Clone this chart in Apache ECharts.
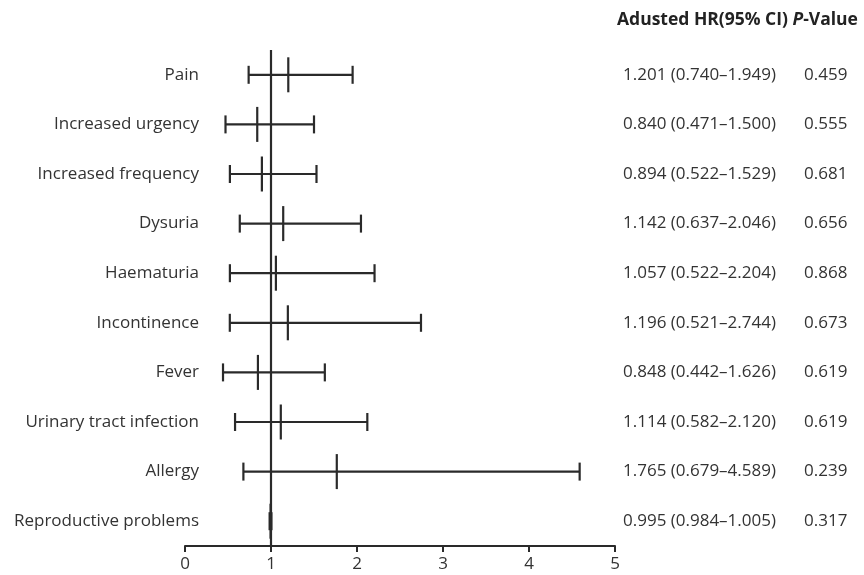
<!DOCTYPE html>
<html>
<head>
<meta charset="utf-8">
<script src="https://cdn.jsdelivr.net/npm/echarts@6/dist/echarts.min.js"></script>
<style>html,body{margin:0;padding:0;background:#fff}#c{width:864px;height:575px}</style>
</head>
<body>
<div id="c"></div>
<script>
var categories = ["Pain","Increased urgency","Increased frequency","Dysuria","Haematuria","Incontinence","Fever","Urinary tract infection","Allergy","Reproductive problems"];
var hr    = [1.201, 0.840, 0.894, 1.142, 1.057, 1.196, 0.848, 1.114, 1.765, 0.995];
var lower = [0.740, 0.471, 0.522, 0.637, 0.522, 0.521, 0.442, 0.582, 0.679, 0.984];
var upper = [1.949, 1.500, 1.529, 2.046, 2.204, 2.744, 1.626, 2.120, 4.589, 1.005];
var pValues = ["0.459","0.555","0.681","0.656","0.868","0.673","0.619","0.619","0.239","0.317"];
var xTicks = [0, 1, 2, 3, 4, 5];

var FONT = "Open Sans";
var FS = 17;
var LINE = "#2a2a2a";
var TEXT = "#333333";

var data = categories.map(function (c, i) { return [i, hr[i], lower[i], upper[i]]; });
var hrText = categories.map(function (c, i) {
  return hr[i].toFixed(3) + " (" + lower[i].toFixed(3) + "\u2013" + upper[i].toFixed(3) + ")";
});

var chart = echarts.init(document.getElementById('c'), null, {renderer: 'canvas'});
chart.setOption({
  animation: false,
  backgroundColor: '#fff',
  title: {
    left: 612, top: 6,
    text: '{b|Adusted HR(95% CI) }{i|P}{b|-Value}',
    textStyle: {
      rich: {
        b: {fontFamily: FONT, fontSize: 17.5, fontWeight: 'bold', color: '#222'},
        i: {fontFamily: FONT, fontSize: 17.5, fontWeight: 'bold', fontStyle: 'italic', color: '#222'}
      }
    }
  },
  grid: {left: 185, right: 249, top: 50, bottom: 29},
  xAxis: {
    type: 'value', min: xTicks[0], max: xTicks[xTicks.length - 1], interval: 1,
    axisLine: {show: true, lineStyle: {color: LINE, width: 2}},
    axisTick: {show: true, length: 6, lineStyle: {color: LINE, width: 2}},
    axisLabel: {fontFamily: FONT, fontSize: FS, color: TEXT, margin: 10},
    splitLine: {show: false}
  },
  yAxis: [{
    type: 'category', data: categories, inverse: true, offset: -23,
    axisLine: {show: false}, axisTick: {show: false},
    axisLabel: {fontFamily: FONT, fontSize: FS, color: TEXT, margin: 9}
  }, {
    type: 'category', data: hrText, inverse: true, position: 'right',
    axisLine: {show: false}, axisTick: {show: false},
    axisLabel: {
      margin: 8, align: 'left',
      formatter: function (v, i) { return '{a|' + v + '}{p|' + pValues[i] + '}'; },
      rich: {
        a: {fontFamily: FONT, fontSize: FS, color: TEXT, width: 181},
        p: {fontFamily: FONT, fontSize: FS, color: TEXT}
      }
    }
  }],
  series: [{
    type: 'custom',
    data: data,
    renderItem: function (params, api) {
      var idx = api.value(0);
      var c = api.coord([api.value(1), idx]);
      var l = api.coord([api.value(2), idx]);
      var h = api.coord([api.value(3), idx]);
      var st = {stroke: LINE, lineWidth: 2.2};
      return {
        type: 'group',
        children: [
          {type: 'line', shape: {x1: l[0], y1: c[1], x2: h[0], y2: c[1]}, style: st},
          {type: 'line', shape: {x1: l[0], y1: c[1] - 9, x2: l[0], y2: c[1] + 9}, style: st},
          {type: 'line', shape: {x1: h[0], y1: c[1] - 9, x2: h[0], y2: c[1] + 9}, style: st},
          {type: 'line', shape: {x1: c[0], y1: c[1] - 17.5, x2: c[0], y2: c[1] + 17.5}, style: st}
        ]
      };
    },
    markLine: {
      silent: true, symbol: 'none', label: {show: false},
      lineStyle: {color: LINE, width: 2.2, type: 'solid'},
      data: [{xAxis: 1}]
    }
  }]
});
</script>
</body>
</html>
